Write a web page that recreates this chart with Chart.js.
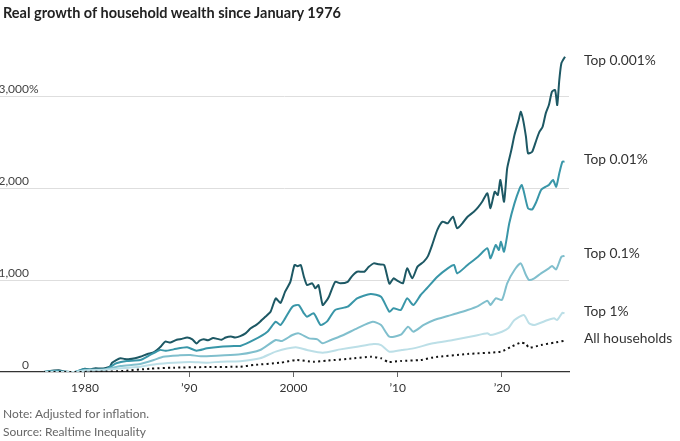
<!DOCTYPE html>
<html>
<head>
<meta charset="utf-8">
<script src="https://cdn.jsdelivr.net/npm/chart.js@4.4.1/dist/chart.umd.min.js"></script>
<style>
  body { margin: 0; background: #fff; font-family: Lato, "Noto Sans", sans-serif; }
  #wrap { position: relative; width: 680px; height: 441px; overflow: hidden; }
  #chart { position: absolute; left: 0; top: 0; }
  .title { position: absolute; left: 3px; top: 4px; font-weight: 700; font-size: 14.5px; color: #222; }
  .note { position: absolute; left: 3px; font-size: 12px; color: #666; }
</style>
</head>
<body>
<div id="wrap">
  <canvas id="chart" width="680" height="441"></canvas>
  <div class="title">Real growth of household wealth since January 1976</div>
  <div class="note" style="top:406px">Note: Adjusted for inflation.</div>
  <div class="note" style="top:424px">Source: Realtime Inequality</div>
</div>
<script>
// series: decimal year / percent growth
var top0001Years = [1976,1976.5,1977,1977.5,1978,1978.5,1979,1979.5,1980,1980.5,1981,1981.5,1982,1982.4,1982.6,1983,1983.4,1983.8,1984.3,1984.8,1985.3,1986,1986.5,1986.9,1987.3,1987.7,1988.2,1988.8,1989.3,1989.8,1990.3,1990.7,1991,1991.4,1991.8,1992.3,1992.7,1993.1,1993.5,1994,1994.4,1994.9,1995.4,1995.9,1996.4,1996.8,1997.3,1997.8,1998.3,1998.75,1999.2,1999.7,2000.1,2000.4,2000.7,2001,2001.3,2001.8,2002.1,2002.4,2002.8,2003.1,2003.4,2004,2004.5,2005.2,2005.6,2006.1,2006.8,2007.2,2007.7,2008.2,2008.7,2009.2,2009.6,2010,2010.5,2010.9,2011.4,2011.9,2012.5,2012.9,2013.3,2013.8,2014.3,2014.8,2015.3,2015.7,2016.2,2016.7,2017.3,2017.7,2018.1,2018.6,2018.9,2019.3,2019.6,2019.85,2020.2,2020.5,2020.9,2021.2,2021.6,2021.8,2022,2022.3,2022.5,2022.9,2023.3,2023.6,2023.9,2024.2,2024.5,2024.8,2025.1,2025.3,2025.5,2025.7,2026.05];
var top0001 = [0,8,15,18,5,0,0,15,35,28,40,38,45,60,100,130,150,142,140,150,165,195,210,240,280,330,320,350,360,375,355,310,340,355,345,370,360,350,375,385,375,390,420,475,510,547,600,655,800,750,873,980,1163,1150,1163,1036,945,964,910,945,728,764,818,980,964,980,1040,1090,1090,1140,1181,1170,1163,960,1018,990,964,1127,1018,1145,1200,1260,1380,1545,1634,1616,1688,1562,1616,1688,1742,1790,1851,1942,1779,1960,1924,2087,1851,2214,2413,2576,2739,2829,2757,2558,2377,2395,2522,2612,2666,2811,2902,3047,3065,2902,3174,3355,3427];

var top001Years = [1976,1977,1978,1979,1979.8,1981,1982,1982.5,1983,1984,1985.3,1986.25,1987.2,1987.7,1988.5,1989.8,1990.7,1991.7,1993,1994.3,1994.9,1996.2,1997.5,1998.3,1998.75,1999.2,1999.9,2000.5,2001,2001.3,2001.95,2002.6,2003.2,2004,2005.2,2006.1,2007.4,2008.4,2009.2,2009.6,2010.3,2010.9,2011.5,2012.2,2012.8,2013.8,2014.8,2015.4,2015.7,2016.7,2017.7,2018.6,2018.9,2019.4,2019.7,2019.9,2020.2,2020.7,2021.2,2021.7,2021.9,2022.1,2022.5,2022.9,2023.3,2023.75,2024.2,2024.5,2024.9,2025.2,2025.5,2025.8,2026];
var top001 = [0,10,3,0,30,25,30,60,95,120,130,185,240,230,246,268,232,257,275,283,283,348,438,547,511,583,710,728,638,601,638,511,547,674,710,801,848,818,655,692,674,801,728,837,910,1036,1127,1163,1072,1163,1253,1344,1236,1380,1326,1416,1308,1616,1833,1996,2033,1960,1779,1768,1851,1978,2014,2033,2087,2014,2160,2286,2286];

var top01Years = [1976,1977,1979,1980,1982,1983.4,1985.3,1986.6,1987.5,1989.1,1990.1,1991.1,1993,1994.9,1996.8,1998.3,1998.9,1999.9,2000.5,2001.5,2002.3,2002.8,2003.6,2004.8,2006.1,2007.6,2008.4,2009.2,2010.3,2011,2011.5,2012.5,2013.5,2014.8,2015.7,2016.7,2017.7,2018.6,2018.9,2019.4,2020,2020.5,2021.2,2021.8,2022.3,2022.6,2023.1,2023.75,2024.5,2024.8,2025.2,2025.7,2026];
var top01 = [0,5,0,20,30,65,87,130,166,181,185,170,180,192,239,348,337,402,420,366,355,312,348,402,475,547,511,384,405,493,438,511,565,609,638,674,717,775,728,801,783,964,1109,1181,1054,1000,1018,1072,1127,1152,1116,1253,1261];

var top1Years = [1976,1979,1980,1982,1983,1985.3,1986.9,1988.5,1990.1,1991.7,1993,1994.9,1996.8,1998.3,2000.2,2001.3,2002.8,2004.5,2006.1,2007.7,2008.4,2009.2,2010.4,2011.5,2013.4,2015.3,2017.3,2018.6,2018.9,2020,2020.6,2021.2,2022.1,2022.6,2023.1,2024.4,2025,2025.3,2025.8,2026];
var top1 = [0,0,15,25,35,58,87,101,109,101,112,118,149,221,268,239,210,246,275,304,293,221,239,257,312,348,391,420,402,438,475,565,620,529,511,565,583,565,645,638];

var allYears = [1976,1979,1982,1983.5,1986.25,1988.5,1991.7,1994.9,1996.2,1998.75,2000.3,2001.9,2003.2,2005.8,2007.4,2008.4,2009.1,2010.3,2012.2,2013.4,2016.7,2019.9,2020.9,2021.8,2022.3,2022.6,2023.75,2025,2026];
var allHouseholds = [0,0,5,10,36,47,54,58,76,101,130,112,123,149,166,149,109,120,130,159,196,221,275,319,304,264,293,319,340];

var seriesNames = ['Top 0.001%', 'Top 0.01%', 'Top 0.1%', 'Top 1%', 'All households'];
var xTicks = [1980, 1990, 2000, 2010, 2020];
var xTickLabels = ['1980', '\u201990', '2000', '\u201910', '\u201920'];
var yTicks = [0, 1000, 2000, 3000];
var yTickLabels = ['0', '1,000', '2,000', '3,000'];

function pts(xs, ys) {
  return xs.map(function (x, i) { return { x: x, y: ys[i] }; });
}

var labelPlugin = {
  id: 'labels',
  afterDatasetsDraw: function (chart) {
    var ctx = chart.ctx;
    var y = chart.scales.y;
    ctx.save();
    // y tick labels, right-aligned with the % hanging
    ctx.font = '12px Lato, "Noto Sans", sans-serif';
    ctx.fillStyle = '#444';
    ctx.textBaseline = 'alphabetic';
    yTicks.forEach(function (v, i) {
      var py = y.getPixelForValue(v) - 3;
      ctx.textAlign = 'right';
      ctx.fillText(yTickLabels[i], 29, py);
      if (i === yTicks.length - 1) {
        ctx.textAlign = 'left';
        ctx.fillText('%', 29, py);
      }
    });
    // series labels at the end of each line
    ctx.font = '13.8px Lato, "Noto Sans", sans-serif';
    ctx.fillStyle = '#333';
    ctx.textAlign = 'left';
    ctx.textBaseline = 'middle';
    chart.data.datasets.forEach(function (ds) {
      var last = ds.data[ds.data.length - 1];
      ctx.fillText(ds.label, chart.chartArea.right + 15, y.getPixelForValue(last.y) + (last.y > 3000 ? 4 : -2));
    });
    ctx.restore();
  }
};

new Chart(document.getElementById('chart'), {
  type: 'line',
  data: {
    datasets: [
      { label: seriesNames[4], data: pts(allYears, allHouseholds), borderColor: '#111', borderWidth: 2, borderDash: [2, 3.2] },
      { label: seriesNames[3], data: pts(top1Years, top1), borderColor: '#bcdfe7', borderWidth: 2 },
      { label: seriesNames[2], data: pts(top01Years, top01), borderColor: '#80bfcd', borderWidth: 2 },
      { label: seriesNames[1], data: pts(top001Years, top001), borderColor: '#3996a8', borderWidth: 2 },
      { label: seriesNames[0], data: pts(top0001Years, top0001), borderColor: '#1d5864', borderWidth: 2 }
    ]
  },
  options: {
    responsive: false,
    animation: false,
    layout: { padding: { top: 50, right: 111, left: 0, bottom: 39 } },
    elements: { point: { radius: 0 }, line: { tension: 0.2, borderJoinStyle: 'round' } },
    plugins: { legend: { display: false }, tooltip: { enabled: false } },
    scales: {
      x: {
        type: 'linear',
        min: 1971.85,
        max: 2026.43,
        afterBuildTicks: function (s) { s.ticks = xTicks.map(function (v) { return { value: v }; }); },
        afterFit: function (s) { s.height = 30; },
        grid: { drawOnChartArea: false, tickLength: 5, tickColor: '#666', tickWidth: 1 },
        border: { display: true, color: '#333', width: 1.2 },
        ticks: {
          padding: 4,
          color: '#333',
          font: { family: 'Lato, "Noto Sans", sans-serif', size: 12 },
          maxRotation: 0,
          callback: function (v) { var i = xTicks.indexOf(v); return i >= 0 ? xTickLabels[i] : ''; }
        }
      },
      y: {
        min: 0,
        max: 3500,
        afterBuildTicks: function (s) { s.ticks = yTicks.map(function (v) { return { value: v }; }); },
        afterFit: function (s) { s.width = 0; },
        grid: { color: function (c) { return c.tick.value === 0 ? 'rgba(0,0,0,0)' : '#dedede'; }, drawTicks: false },
        border: { display: false },
        ticks: { display: false }
      }
    }
  },
  plugins: [labelPlugin]
});
</script>
</body>
</html>
